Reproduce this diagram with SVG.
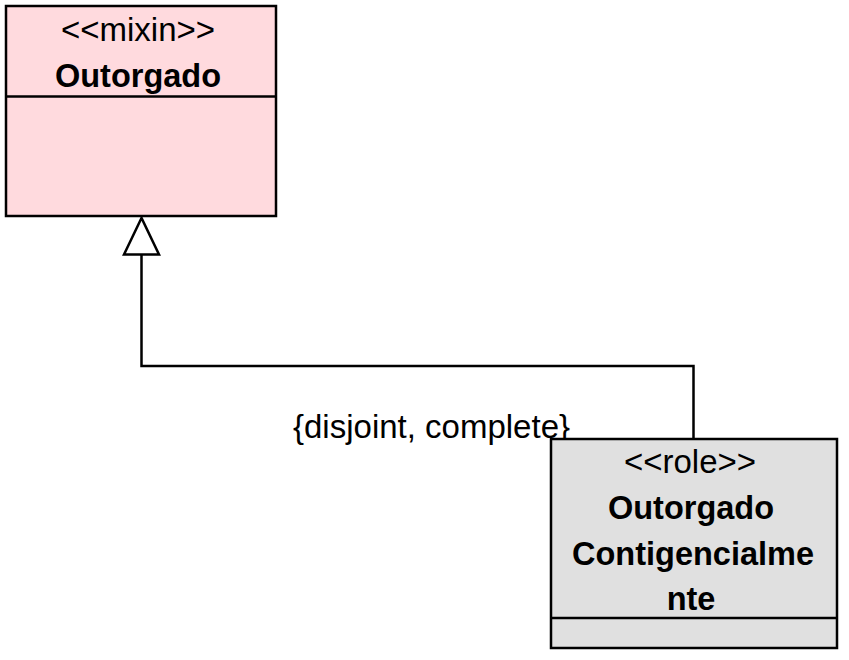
<svg xmlns="http://www.w3.org/2000/svg" width="849" height="660" viewBox="0 0 849 660">
<style>
.box{stroke:#000;stroke-width:2.5}
.div{stroke:#000;stroke-width:2.5}
.st{font-family:"Liberation Sans",Arial,sans-serif;font-size:33px;text-anchor:middle;fill:#000}
.nm{font-family:"Liberation Sans",Arial,sans-serif;font-size:32.5px;font-weight:bold;text-anchor:middle;fill:#000}
.lbl{font-family:"Liberation Sans",Arial,sans-serif;font-size:33px;fill:#000}
.con{fill:none;stroke:#000;stroke-width:2.5}
</style>
<rect width="849" height="660" fill="#fff"/>
<g id="connectors">
<polyline class="con" points="693.5,439 693.5,366 141.5,366 141.5,254.5"/>
<polygon class="con" points="141.5,218 124,254.5 159,254.5" style="fill:#fff"/>
<text class="lbl" x="293" y="438">{disjoint, complete}</text>
</g>
<g id="Outorgado">
<rect class="box" x="6" y="6" width="270" height="210" fill="#FFDADE"/>
<line class="div" x1="6" y1="96.5" x2="276" y2="96.5"/>
<text class="st" x="138" y="41">&lt;&lt;mixin&gt;&gt;</text>
<text class="nm" x="138" y="87">Outorgado</text>
</g>
<g id="OutorgadoContigencialmente">
<rect class="box" x="551" y="439" width="286" height="209" fill="#E0E0E0"/>
<line class="div" x1="551" y1="618" x2="837" y2="618"/>
<text class="st" x="690" y="473">&lt;&lt;role&gt;&gt;</text>
<text class="nm" x="691" y="519">Outorgado</text>
<text class="nm" x="693" y="565">Contigencialme</text>
<text class="nm" x="691" y="610">nte</text>
</g>
</svg>
